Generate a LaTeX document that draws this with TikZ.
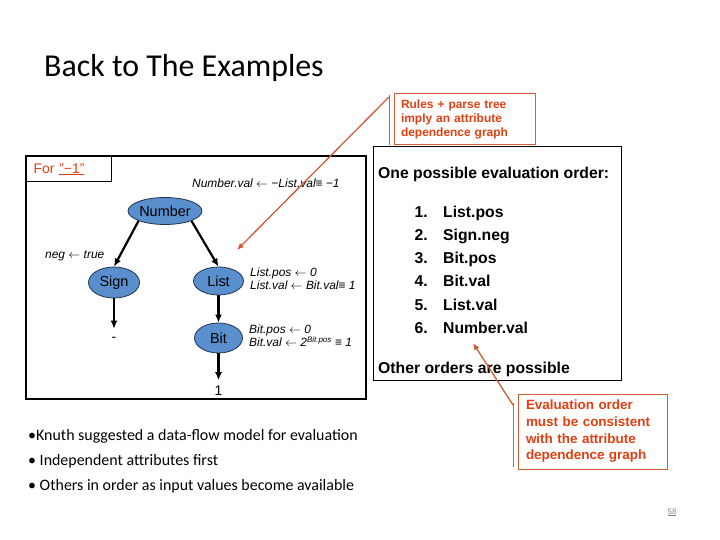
\documentclass[tikz,border=0pt]{standalone}
\usepackage{fontspec}
\setmainfont{Liberation Sans}
\newfontfamily\calibri{Carlito}
\usetikzlibrary{arrows.meta,shapes.geometric}
\definecolor{nodeblue}{RGB}{90,143,205}
\definecolor{nodeedge}{RGB}{35,50,75}
\definecolor{calltext}{RGB}{228,62,16}
\definecolor{callline}{RGB}{212,92,52}
\definecolor{pagegrey}{RGB}{130,130,130}
\newcommand{\myarr}{\ensuremath{\leftarrow}}
\tikzset{
  treenode/.style={ellipse, draw=nodeedge, line width=0.8bp, fill=nodeblue, inner sep=0pt, font=\fontsize{14.5}{16}\selectfont},
  treeedge/.style={-{Latex[length=8bp,width=7bp]}, line width=2.2bp},
  attr/.style={anchor=base west, inner sep=0pt, font=\itshape\fontsize{12}{14}\selectfont},
  ordertext/.style={anchor=base west, inner sep=0pt, font=\bfseries\fontsize{15.8}{20}\selectfont},
  ordernum/.style={anchor=base east, inner sep=0pt, font=\bfseries\fontsize{15.8}{20}\selectfont},
  callbox/.style={draw=callline, line width=1bp, text=calltext, align=left, inner ysep=0pt},
  callbar/.style={draw=callline, line width=1bp},
  leader/.style={draw=callline, line width=1.3bp, -{Latex[length=7bp,width=6bp]}},
  bullettext/.style={anchor=base west, inner sep=0pt, font=\calibri\fontsize{16}{18}\selectfont},
  plainbox/.style={draw, inner sep=0pt},
}
\begin{document}
\begin{tikzpicture}[x=1bp,y=-1bp]
\useasboundingbox (0,0) rectangle (720,540);

% title
\node[anchor=base west, inner sep=0pt, font=\calibri\fontsize{32}{38}\selectfont] (title) at (44,77) {Back to The Examples};

% left tree box
\node[plainbox, line width=1.8bp, minimum width=340bp, minimum height=243bp] (treebox) at (196,277.5) {};
\node[plainbox, line width=1.4bp, minimum width=85bp, minimum height=25bp, anchor=north west, text width=71bp, inner xsep=7bp, align=left, text=calltext, font=\fontsize{14}{16}\selectfont] (forbox) at (26,156) {For \underline{"−1"}};

\node[attr] (numval) at (192,188) {Number.val \myarr\ −List.val≡ −1};

\node[treenode, minimum width=74bp, minimum height=27bp] (number) at (165,211) {Number};
\node[treenode, minimum width=51bp, minimum height=31bp] (sign) at (114,282.5) {Sign};
\node[treenode, minimum width=50bp, minimum height=28bp] (list) at (218.5,281) {List};
\node[treenode, minimum width=48bp, minimum height=30bp] (bit) at (218.5,338) {Bit};

\node[inner sep=0pt, font=\fontsize{14}{16}\selectfont] (dash) at (114,339) {-};
\node[anchor=base, inner sep=0pt, font=\fontsize{14}{16}\selectfont] (one) at (218.5,395) {1};

\node[attr] (negattr) at (45,259) {neg \myarr\ true};
\node[attr] (listpos) at (250,276.5) {List.pos \myarr\ 0};
\node[attr] (listval) at (250,289) {List.val \myarr\ Bit.val≡ 1};
\node[attr] (bitpos) at (249,333) {Bit.pos \myarr\ 0};
\node[attr] (bitval) at (249,346.5) {Bit.val \myarr\ 2\textsuperscript{Bit.pos} ≡ 1};

\draw[treeedge] (number.south west) -- (sign.north);
\draw[treeedge] (number.south east) -- (list.north);
\draw[treeedge] (list.south) -- (bit.north);
\draw[treeedge, shorten >=8bp] (sign.south) -- (dash.north);
\draw[treeedge, shorten >=5bp] (bit.south) -- (one.north);

% right order box
\node[plainbox, line width=0.9bp, minimum width=248bp, minimum height=234bp] (orderbox) at (497,263) {};
\node[ordertext] (orderhead) at (378,179) {One possible evaluation order:};
\node[ordernum] (n1) at (428,218) {1.};
\node[ordertext] (o1) at (443,218) {List.pos};
\node[ordernum] (n2) at (428,241) {2.};
\node[ordertext] (o2) at (443,241) {Sign.neg};
\node[ordernum] (n3) at (428,264) {3.};
\node[ordertext] (o3) at (443,264) {Bit.pos};
\node[ordernum] (n4) at (428,287) {4.};
\node[ordertext] (o4) at (443,287) {Bit.val};
\node[ordernum] (n5) at (428,310) {5.};
\node[ordertext] (o5) at (443,310) {List.val};
\node[ordernum] (n6) at (428,333) {6.};
\node[ordertext] (o6) at (443,333) {Number.val};
\node[ordertext] (other) at (378,373) {Other orders are possible};

% callout 1
\node[callbox, minimum width=141bp, minimum height=51bp, text width=127bp, inner xsep=7bp, font=\bfseries\fontsize{12}{14}\selectfont] (rules) at (464.5,119.5) {Rules + parse tree\\imply an attribute\\dependence graph};
\coordinate (bar1top) at (389,95);
\coordinate (bar1bot) at (389,145);
\draw[callbar] (bar1top) -- (bar1bot);
\coordinate (lead1) at (389,97);
\coordinate (tip1) at (237,250);
\draw[leader] (lead1) -- (tip1);

% callout 2
\node[callbox, minimum width=149bp, minimum height=75bp, text width=133bp, inner xsep=8bp, font=\bfseries\fontsize{13.5}{16.7}\selectfont] (evalorder) at (592.5,431.5) {Evaluation order\\must be consistent\\with the attribute\\dependence graph};
\coordinate (bar2top) at (513,403);
\coordinate (bar2bot) at (513,467);
\draw[callbar] (bar2top) -- (bar2bot);
\coordinate (lead2) at (513,405);
\coordinate (tip2) at (473,343);
\draw[leader] (lead2) -- (tip2);

% bullets
\node[bullettext] (b1) at (28,440) {•Knuth suggested a data-flow model for evaluation};
\node[bullettext] (b2) at (28,465) {• Independent attributes first};
\node[bullettext] (b3) at (28,490) {• Others in order as input values become available};

% page number
\node[anchor=base, inner sep=0pt, text=pagegrey, font=\fontsize{8}{9}\selectfont] (page) at (672,514) {\underline{58}};
\end{tikzpicture}
\end{document}
